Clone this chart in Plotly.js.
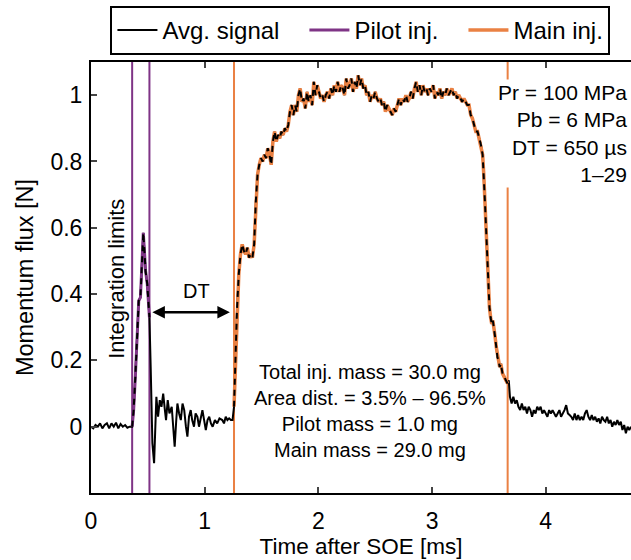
<!DOCTYPE html>
<html>
<head>
<meta charset="utf-8">
<script src="https://cdn.plot.ly/plotly-3.0.1.min.js"></script>
<style>html,body{margin:0;padding:0;background:#fff;}#chart{width:631px;height:560px;}</style>
</head>
<body>
<div id="chart"></div>
<script>
// Time after SOE [ms]
const timeMs = [
0,0.02,0.04,0.06,0.08,0.10,0.12,0.14,0.16,0.18,0.20,0.22,0.24,0.26,0.28,0.30,0.32,0.34,0.36,
0.362,0.375,0.39,0.405,0.42,0.435,0.445,0.46,0.47,0.48,0.495,0.505,0.514,
0.525,0.54,0.555,0.565,0.575,0.59,0.605,0.62,0.635,0.65,0.66,0.675,0.69,0.71,0.725,0.736,0.75,0.76,0.775,0.79,0.805,0.82,0.835,0.848,0.862,0.877,0.89,0.906,0.92,0.936,0.95,0.965,0.98,0.995,1.01,1.025,1.04,1.055,1.07,1.09,1.11,1.13,1.155,1.17,1.185,1.2,1.215,1.23,1.245,
1.258,1.27,1.285,1.30,1.315,1.33,1.345,1.36,1.375,1.39,1.405,1.42,1.435,1.45,1.465,1.48,1.495,1.51,1.525,1.54,1.555,1.57,1.585,1.60,1.615,1.63,1.645,1.66,1.675,1.69,1.705,1.72,1.735,1.75,1.765,1.78,1.795,1.81,1.825,1.84,1.855,1.87,1.885,1.90,1.915,1.93,1.945,1.96,1.975,1.99,2.005,2.02,2.035,2.05,2.065,2.08,2.095,2.11,2.125,2.14,2.155,2.17,2.185,2.20,2.215,2.23,2.245,2.26,2.275,2.29,2.305,2.32,2.335,2.35,2.365,2.38,2.395,2.41,2.425,2.44,2.455,2.47,2.485,2.50,2.515,2.53,2.545,2.56,2.575,2.59,2.605,2.62,2.635,2.65,2.665,2.68,2.695,2.71,2.725,2.74,2.755,2.77,2.785,2.80,2.815,2.83,2.845,2.86,2.875,2.89,2.905,2.92,2.935,2.95,2.965,2.98,2.995,3.01,3.025,3.04,3.055,3.07,3.085,3.10,3.115,3.13,3.145,3.16,3.175,3.19,3.205,3.22,3.235,3.25,3.265,3.28,3.295,3.31,3.325,3.34,3.355,3.37,3.385,3.40,3.415,3.43,3.445,3.455,3.465,3.475,3.485,3.495,3.505,3.515,3.525,3.535,3.545,3.555,3.565,3.575,3.585,3.595,3.605,3.62,3.635,3.65,3.665,
3.675,3.685,3.70,3.715,3.73,3.745,3.76,3.775,3.79,3.805,3.82,3.835,3.85,3.865,3.88,3.895,3.91,3.925,3.94,3.955,3.97,3.985,4.0,4.015,4.03,4.045,4.06,4.075,4.09,4.105,4.12,4.135,4.15,4.165,4.18,4.195,4.21,4.225,4.24,4.255,4.27,4.285,4.30,4.315,4.33,4.345,4.36,4.375,4.39,4.405,4.42,4.435,4.45,4.465,4.48,4.495,4.51,4.525,4.54,4.555,4.57,4.585,4.60,4.615,4.63,4.645,4.66,4.675,4.69,4.705,4.72,4.735,4.75
];
// Momentum flux [N]
const fluxN = [
0.0,-0.005,0.005,0.0,0.01,-0.005,0.005,0.01,-0.005,0.01,0.0,0.012,-0.005,0.008,0.0,0.005,-0.003,0.0,0.0,
0.0,0.05,0.15,0.28,0.38,0.39,0.48,0.585,0.53,0.47,0.43,0.38,0.33,
0.18,-0.05,-0.11,0.0,0.09,0.03,0.08,0.06,0.10,0.05,0.02,0.08,0.04,0.06,0.0,-0.06,0.02,0.07,0.04,0.02,0.07,0.05,0.0,-0.03,0.03,0.05,0.02,0.0,0.04,0.03,0.0,0.03,0.05,0.02,-0.01,0.02,0.03,0.01,0.0,0.02,0.01,0.025,0.02,0.01,0.03,0.02,0.025,0.02,0.02,
0.06,0.2,0.36,0.46,0.52,0.55,0.53,0.52,0.54,0.51,0.52,0.51,0.55,0.68,0.76,0.79,0.81,0.80,0.82,0.81,0.84,0.82,0.79,0.86,0.89,0.86,0.88,0.87,0.89,0.88,0.90,0.89,0.91,0.95,0.97,0.94,0.97,0.95,1.0,1.02,0.98,0.99,0.96,1.01,0.98,1.0,0.97,1.04,1.0,1.03,1.01,0.99,1.0,0.98,1.0,1.01,0.99,1.02,1.0,1.03,1.01,1.04,1.01,1.03,1.02,1.0,1.05,1.02,1.03,1.05,1.01,1.04,1.02,1.06,1.03,1.05,1.02,1.03,1.0,1.01,0.98,1.0,0.99,1.01,0.99,0.98,0.99,0.97,0.98,0.95,0.97,0.96,0.95,0.94,0.96,0.95,0.97,0.99,0.97,0.99,0.98,1.0,0.98,0.99,1.01,0.99,1.02,1.04,1.01,1.03,1.0,1.03,1.01,1.02,1.0,1.02,1.01,1.03,0.99,1.01,1.0,1.02,0.99,1.01,1.0,1.02,1.0,1.01,1.02,1.0,1.01,0.99,1.0,0.99,0.98,0.99,0.98,0.97,0.97,0.94,0.93,0.91,0.89,0.89,0.87,0.85,0.82,0.76,0.68,0.60,0.50,0.42,0.36,0.33,0.31,0.32,0.30,0.27,0.24,0.21,0.20,0.18,0.19,0.16,0.15,0.14,0.13,
0.14,0.09,0.07,0.09,0.07,0.08,0.06,0.05,0.07,0.05,0.06,0.04,0.06,0.05,0.03,0.05,0.04,0.06,0.05,0.06,0.04,0.05,0.04,0.03,0.05,0.04,0.05,0.04,0.03,0.04,0.05,0.03,0.04,0.05,0.065,0.04,0.035,0.03,0.02,0.04,0.02,0.035,0.02,0.03,0.02,0.04,0.05,0.03,0.02,0.035,0.02,0.03,0.015,0.025,0.01,0.03,0.02,0.015,0.03,0.01,0.02,0.0,0.015,0.005,0.02,0.005,0.015,-0.01,0.005,-0.02,0.0,-0.01,0.0
];
const pilotLimits = [0.362, 0.514];
const mainLimits = [1.258, 3.665];
const seriesNames = ['Avg. signal', 'Pilot inj.', 'Main inj.'];
const seriesColors = ['#000000', '#7f3486', '#ea8143'];
const xTicks = [0, 1, 2, 3, 4];
const yTicks = [0, 0.2, 0.4, 0.6, 0.8, 1];

function segment(lim) {
  const xs = [], ys = [];
  for (let i = 0; i < timeMs.length; i++) {
    if (timeMs[i] >= lim[0] - 1e-9 && timeMs[i] <= lim[1] + 1e-9) { xs.push(timeMs[i]); ys.push(fluxN[i]); }
  }
  return {xs, ys};
}
const pil = segment(pilotLimits), mn = segment(mainLimits);
const pad = '\u00a0\u00a0\u00a0';

const traces = [
  {x: timeMs, y: fluxN, mode: 'lines', name: seriesNames[0] + pad, line: {color: seriesColors[0], width: 2}},
  {x: pil.xs, y: pil.ys, mode: 'lines', name: seriesNames[1] + pad, line: {color: seriesColors[1], width: 3}},
  {x: mn.xs, y: mn.ys, mode: 'lines', name: seriesNames[2], line: {color: seriesColors[2], width: 3.5}},
  {x: pil.xs, y: pil.ys, mode: 'lines', showlegend: false, line: {color: '#000', width: 2, dash: '6px,5px'}},
  {x: mn.xs, y: mn.ys, mode: 'lines', showlegend: false, line: {color: '#000', width: 2, dash: '6px,5px'}}
];

function vline(x, color) {
  return {type: 'line', xref: 'x', yref: 'paper', x0: x, x1: x, y0: 0, y1: 1, layer: 'below', line: {color: color, width: 2}};
}

const F = 'Liberation Sans, Arial, Helvetica, sans-serif';
const layout = {
  width: 631, height: 560,
  margin: {l: 91, r: 0, t: 62, b: 67},
  paper_bgcolor: '#fff', plot_bgcolor: '#fff',
  font: {family: F, size: 20, color: '#000'},
  showlegend: true,
  legend: {orientation: 'h', x: 0.036, y: 1.13, xanchor: 'left', yanchor: 'top', itemwidth: 40,
    bordercolor: '#000', borderwidth: 2, bgcolor: '#fff', font: {family: F, size: 24}},
  xaxis: {range: [0, 4.75], tickvals: xTicks, ticktext: xTicks.map(String), ticks: 'inside', ticklen: 6, tickwidth: 2,
    showline: true, linewidth: 2, linecolor: '#000', mirror: 'ticks', showgrid: false, zeroline: false,
    tickfont: {size: 23}, ticklabelstandoff: 6,
    title: {text: 'Time after SOE [ms]', font: {size: 22.5}, standoff: 6}},
  yaxis: {range: [-0.2, 1.1], tickvals: yTicks, ticktext: yTicks.map(String), ticks: 'inside', ticklen: 6, tickwidth: 2,
    showline: true, linewidth: 2, linecolor: '#000', mirror: false, showgrid: false, zeroline: false,
    tickfont: {size: 23}, ticklabelstandoff: 2,
    title: {text: 'Momentum flux [N]', font: {size: 23.5}, standoff: 10}},
  shapes: [vline(pilotLimits[0], seriesColors[1]), vline(pilotLimits[1], seriesColors[1]),
           vline(mainLimits[0], seriesColors[2]), vline(mainLimits[1], seriesColors[2])],
  annotations: [
    {x: 0.54, y: 0.345, ax: 1.235, ay: 0.345, axref: 'x', ayref: 'y', xref: 'x', yref: 'y', text: '',
     showarrow: true, arrowside: 'end+start', arrowhead: 2, arrowsize: 1, arrowwidth: 2.5, arrowcolor: '#000'},
    {x: 0.93, y: 0.41, xref: 'x', yref: 'y', text: 'DT', showarrow: false, font: {size: 20}},
    {x: 0.223, y: 0.447, xref: 'x', yref: 'y', text: 'Integration limits', textangle: -90, showarrow: false, font: {size: 22}},
    {x: 2.45, y: 0.048, xref: 'x', yref: 'y', text: 'Total inj. mass = 30.0 mg<br>Area dist. = 3.5% – 96.5%<br>Pilot mass = 1.0 mg<br>Main mass = 29.0 mg',
     showarrow: false, align: 'center', font: {size: 20}},
    {x: 4.735, y: 0.883, xref: 'x', yref: 'y', xanchor: 'right', text: 'Pr = 100 MPa<br>Pb = 6 MPa<br>DT = 650 µs<br>1–29',
     showarrow: false, align: 'right', bgcolor: '#fff', font: {size: 21}}
  ]
};

Plotly.newPlot('chart', traces, layout, {displayModeBar: false, staticPlot: true});
</script>
</body>
</html>
